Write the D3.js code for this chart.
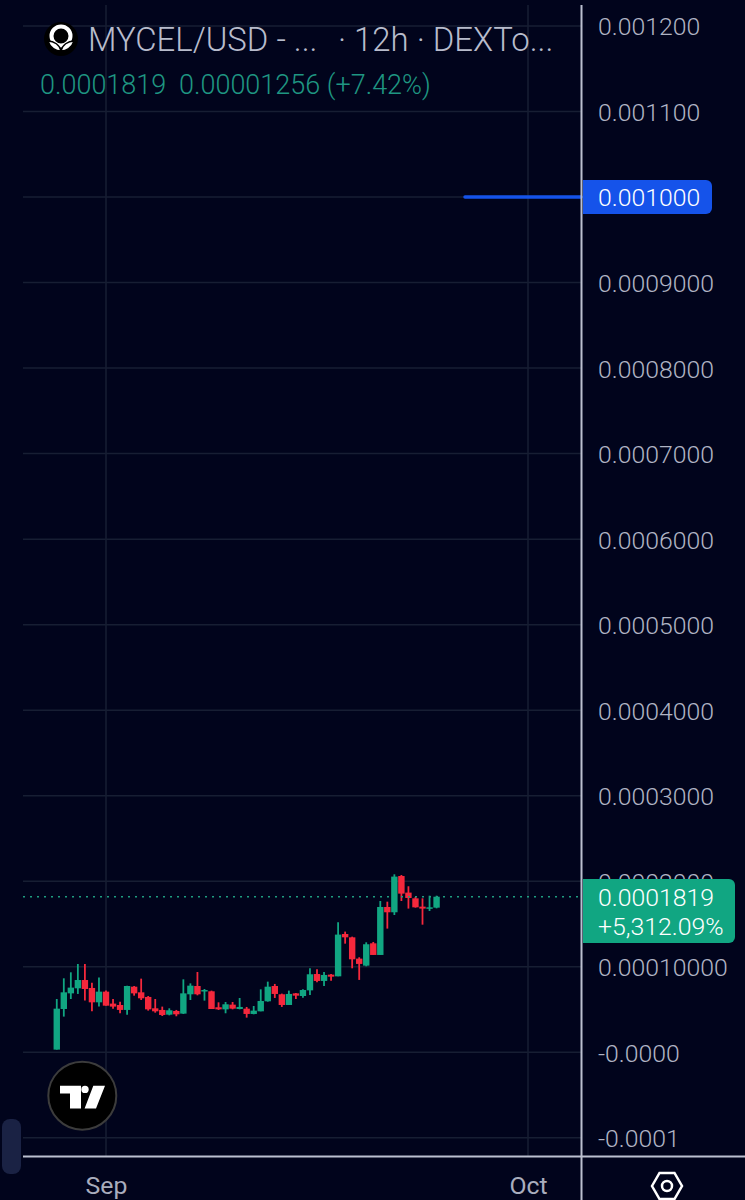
<!doctype html>
<html>
  <head>
    <title>MYCEL/USD</title>
    <meta charset='UTF-8'>
    <script src="https://d3js.org/d3.v7.min.js"></script>
    <style>
      html, body { margin: 0; padding: 0; background: #01041c; }
      svg { display: block; font-family: Roboto, sans-serif; }
    </style>
  </head>
  <body>
    <svg id='render' width='745' height='1200'></svg>
    <script>
      const firstCandle = Date.UTC(2024, 7, 28, 12);
      const candleStep = 12 * 3600 * 1000;
      const opens = [0.0000031,0.0000506,0.0000689,0.0000748,0.0000845,0.0000752,0.0000584,0.0000709,0.0000569,0.0000553,0.0000495,0.0000767,0.0000701,0.0000647,0.0000514,0.0000495,0.0000440,0.0000483,0.0000452,0.0000678,0.0000775,0.0000713,0.0000713,0.0000526,0.0000502,0.0000557,0.0000506,0.0000510,0.0000448,0.0000479,0.0000596,0.0000775,0.0000678,0.0000553,0.0000689,0.0000658,0.0000724,0.0000915,0.0000834,0.0000908,0.0000888,0.0001383,0.0001344,0.0001095,0.0001013,0.0001274,0.0001138,0.0001699,0.0001637,0.0002061,0.0001867,0.0001800,0.0001703,0.0001680,0.0001691];
      const highs = [0.0000623,0.0000865,0.0000935,0.0001032,0.0001032,0.0000814,0.0000873,0.0000721,0.0000623,0.0000592,0.0000779,0.0000775,0.0000861,0.0000658,0.0000623,0.0000534,0.0000514,0.0000495,0.0000853,0.0000806,0.0000939,0.0000740,0.0000721,0.0000584,0.0000588,0.0000588,0.0000635,0.0000530,0.0000541,0.0000736,0.0000826,0.0000799,0.0000686,0.0000721,0.0000693,0.0000736,0.0000982,0.0000970,0.0000939,0.0000915,0.0001520,0.0001411,0.0001352,0.0001111,0.0001286,0.0001290,0.0001769,0.0001761,0.0002081,0.0002073,0.0001941,0.0001816,0.0001800,0.0001831,0.0001831];
      const lows = [0.0000031,0.0000417,0.0000623,0.0000682,0.0000604,0.0000479,0.0000534,0.0000545,0.0000510,0.0000456,0.0000440,0.0000662,0.0000611,0.0000487,0.0000463,0.0000424,0.0000432,0.0000421,0.0000448,0.0000611,0.0000666,0.0000604,0.0000506,0.0000495,0.0000456,0.0000502,0.0000502,0.0000405,0.0000444,0.0000479,0.0000592,0.0000635,0.0000530,0.0000553,0.0000623,0.0000639,0.0000670,0.0000818,0.0000775,0.0000837,0.0000888,0.0001270,0.0000982,0.0000846,0.0001005,0.0001138,0.0001138,0.0001446,0.0001605,0.0001769,0.0001680,0.0001691,0.0001492,0.0001652,0.0001683];
      const closes = [0.0000510,0.0000701,0.0000756,0.0000845,0.0000740,0.0000584,0.0000709,0.0000545,0.0000534,0.0000495,0.0000775,0.0000689,0.0000631,0.0000502,0.0000479,0.0000436,0.0000491,0.0000444,0.0000689,0.0000779,0.0000678,0.0000728,0.0000506,0.0000502,0.0000561,0.0000510,0.0000530,0.0000448,0.0000487,0.0000600,0.0000767,0.0000682,0.0000553,0.0000682,0.0000662,0.0000728,0.0000912,0.0000834,0.0000904,0.0000884,0.0001376,0.0001344,0.0001087,0.0001033,0.0001263,0.0001138,0.0001699,0.0001637,0.0002054,0.0001855,0.0001804,0.0001695,0.0001680,0.0001695,0.0001819];

      const priceTicks = [0.0012,0.0011,0.0010,0.0009,0.0008,0.0007,0.0006,0.0005,0.0004,0.0003,0.0002,0.0001,0,-0.0001];
      const priceLabels = ["0.001200","0.001100","","0.0009000","0.0008000","0.0007000","0.0006000","0.0005000","0.0004000","0.0003000","0.0002000","0.00010000","-0.0000","-0.0001"];
      const timeTicks = [Date.UTC(2024,8,1), Date.UTC(2024,9,1)];
      const timeLabels = ["Sep","Oct"];
      const lastPrice = 0.0001819;
      const alertPrice = 0.001;

      const bg = "#01041c", gridColor = "#171e33", up = "#11a682", down = "#f5283c";
      const paneLeft = 23, paneRight = 581, paneBottom = 1156;

      const x = d3.scaleUtc().domain(timeTicks).range([106, 528]);
      const y = d3.scaleLinear().domain([-0.0001, 0.0012]).range([1137.8, 26]);
      const svg = d3.select("#render");

      svg.append("rect").attr("width", 745).attr("height", 1200).attr("fill", bg);

      // grid
      svg.selectAll("line.h").data(priceTicks).enter().append("line").attr("class", "h")
        .attr("x1", paneLeft).attr("x2", paneRight)
        .attr("y1", d => y(d)).attr("y2", d => y(d))
        .attr("stroke", gridColor).attr("stroke-width", 1.5);
      svg.selectAll("line.v").data(timeTicks).enter().append("line").attr("class", "v")
        .attr("x1", d => x(d)).attr("x2", d => x(d))
        .attr("y1", 5).attr("y2", paneBottom)
        .attr("stroke", gridColor).attr("stroke-width", 1.5);

      // candles
      const candles = opens.map((o, i) => ({
        t: firstCandle + i * candleStep, o: o, h: highs[i], l: lows[i], c: closes[i]
      }));
      const color = d => d.c >= d.o ? up : down;
      const g = svg.append("g");
      g.selectAll("line").data(candles).enter().append("line")
        .attr("x1", d => x(d.t)).attr("x2", d => x(d.t))
        .attr("y1", d => y(d.h)).attr("y2", d => y(d.l))
        .attr("stroke", color).attr("stroke-width", 1.8);
      g.selectAll("rect").data(candles).enter().append("rect")
        .attr("x", d => x(d.t) - 3.2).attr("width", 6.4)
        .attr("y", d => y(Math.max(d.o, d.c)))
        .attr("height", d => Math.max(1.5, Math.abs(y(d.o) - y(d.c))))
        .attr("fill", color);

      // last price and alert lines
      svg.append("line")
        .attr("x1", paneLeft).attr("x2", paneRight)
        .attr("y1", y(lastPrice)).attr("y2", y(lastPrice))
        .attr("stroke", "#1f9d80").attr("stroke-width", 1.5).attr("stroke-dasharray", "2 5");
      svg.append("line")
        .attr("x1", 465).attr("x2", paneRight)
        .attr("y1", y(alertPrice)).attr("y2", y(alertPrice))
        .attr("stroke", "#1553ea").attr("stroke-width", 3.5).attr("stroke-linecap", "round");

      // axes
      const yAxis = svg.append("g").attr("transform", "translate(582,0)")
        .call(d3.axisRight(y).tickValues(priceTicks).tickFormat((d, i) => priceLabels[i]).tickSize(0).tickPadding(16));
      const xAxis = svg.append("g").attr("transform", "translate(0,1179)")
        .call(d3.axisBottom(x).tickValues(timeTicks).tickFormat((d, i) => timeLabels[i]).tickSize(0).tickPadding(0));
      yAxis.select(".domain").remove();
      xAxis.select(".domain").remove();
      yAxis.selectAll("text").attr("font-size", 24.8).attr("font-family", "Roboto").attr("font-weight", 300).attr("fill", "#b0b4c4").attr("dy", "0.36em");
      xAxis.selectAll("text").attr("font-size", 24.8).attr("font-family", "Roboto").attr("fill", "#a9adbd").attr("dy", "0.6em");

      svg.append("line").attr("x1", paneLeft).attr("x2", 745).attr("y1", 1156.5).attr("y2", 1156.5).attr("stroke", "#bcc0d0").attr("stroke-width", 2);
      svg.append("line").attr("x1", 581.5).attr("x2", 581.5).attr("y1", 5).attr("y2", 1200).attr("stroke", "#bcc0d0").attr("stroke-width", 2);

      // price badges
      svg.append("path").attr("d", "M583,180H706a6,6 0 0 1 6,6V208a6,6 0 0 1 -6,6H583Z").attr("fill", "#1553ea");
      svg.append("text").attr("x", 598).attr("y", y(alertPrice) + 9).attr("font-size", 24.8).attr("font-weight", 300).attr("fill", "#fff").text(d3.format(".6f")(alertPrice));
      svg.append("path").attr("d", "M583,879H729a6,6 0 0 1 6,6V937a6,6 0 0 1 -6,6H583Z").attr("fill", up);
      svg.append("text").attr("x", 598).attr("y", 906).attr("font-size", 24.8).attr("font-weight", 300).attr("fill", "#fff").text("0.0001819");
      svg.append("text").attr("x", 598).attr("y", 935).attr("font-size", 24.8).attr("font-weight", 300).attr("fill", "#fff").text("+5,312.09%");

      // legend
      svg.append("text").attr("x", 88).attr("y", 51).attr("font-size", 32.9).attr("font-weight", 300).attr("fill", "#b8bccc").text("MYCEL/USD - ...");
      svg.append("text").attr("x", 338).attr("y", 51).attr("font-size", 32.9).attr("font-weight", 300).attr("fill", "#b8bccc").text("· 12h · DEXTo...");
      svg.append("text").attr("x", 40).attr("y", 94).attr("font-size", 27).attr("font-weight", 300).attr("fill", "#1f9682").text("0.0001819");
      svg.append("text").attr("x", 179).attr("y", 94).attr("font-size", 27).attr("font-weight", 300).attr("fill", "#1f9682").text("0.00001256 (+7.42%)");

      // token icon
      const token = svg.append("g").attr("transform", "translate(61,39)");
      token.append("circle").attr("r", 17).attr("fill", "#000");
      token.append("circle").attr("cy", -3).attr("r", 9.5).attr("fill", "none").attr("stroke", "#fff").attr("stroke-width", 4);
      token.append("path").attr("d", "M-13,2C-11,9 -5,12 0,12C-1,6 -7,2 -13,2ZM13,2C11,9 5,12 0,12C1,6 7,2 13,2Z").attr("fill", "#fff").attr("stroke", "#000").attr("stroke-width", 1.5);

      // tradingview badge
      const tv = svg.append("g").attr("transform", "translate(82.3,1095.7)");
      tv.append("circle").attr("r", 34).attr("fill", "#000").attr("stroke", "#3c3c3c").attr("stroke-width", 2);
      tv.append("path").attr("d", "M-22.3,-10H-1.3V12.7H-12.3V-2.3H-22.3ZM11,-10H22.7L13.7,12.7H2.3Z").attr("fill", "#fff");
      tv.append("circle").attr("cx", 2.7).attr("cy", -6.3).attr("r", 3.7).attr("fill", "#fff");

      // scroll handle
      svg.append("rect").attr("x", 2).attr("y", 1119).attr("width", 19).attr("height", 55).attr("rx", 8).attr("fill", "#1a2244");

      // settings hexagon
      const hex = svg.append("g").attr("transform", "translate(667,1186)").attr("fill", "none").attr("stroke", "#fff").attr("stroke-width", 2.5);
      hex.append("path").attr("d", "M-15,0L-7.5,-13H7.5L15,0L7.5,13H-7.5Z");
      hex.append("circle").attr("r", 5);
    </script>
  </body>
</html>
